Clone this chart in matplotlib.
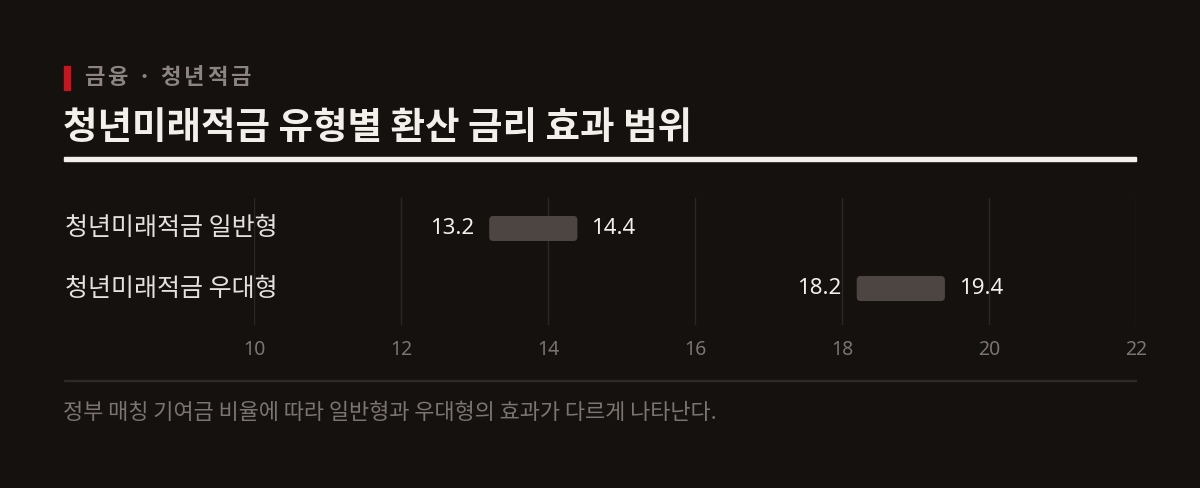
import matplotlib
matplotlib.use("Agg")
import matplotlib.pyplot as plt
from matplotlib.patches import FancyBboxPatch, Rectangle
from matplotlib.transforms import blended_transform_factory

plt.rcParams['font.family'] = ['Noto Sans CJK KR', 'DejaVu Sans']
num_font = ['Noto Sans', 'Noto Sans CJK KR']

# data
categories = ["청년미래적금 일반형", "청년미래적금 우대형"]
low_vals = [13.2, 18.2]
high_vals = [14.4, 19.4]
x_ticks = [10, 12, 14, 16, 18, 20, 22]

eyebrow = "금융 · 청년적금"
title = "청년미래적금 유형별 환산 금리 효과 범위"
footnote = "정부 매칭 기여금 비율에 따라 일반형과 우대형의 효과가 다르게 나타난다."

bg = "#14110f"
bar_col = "#4d4542"
grid_col = "#2b2725"
tick_col = "#7b7470"
white = "#f3efea"

W, H = 1200, 488
fig = plt.figure(figsize=(W / 100, H / 100), dpi=100, facecolor=bg)

def fx(px):
    return px / W

def fy(py):
    return 1 - py / H

# header
fig.patches.append(Rectangle((fx(64), fy(90)), fx(6), 24 / H, transform=fig.transFigure,
                             color="#c8141e", zorder=3))

# eyebrow with letter spacing, char by char
renderer = fig.canvas.get_renderer()
x = 84
for ch in eyebrow:
    if ch == " ":
        x += 7
        continue
    t = fig.text(fx(x), fy(78), ch, color="#8b8480", fontsize=16, fontweight="bold",
                 va="center", ha="left")
    x += t.get_window_extent(renderer).width + 2.8

fig.text(fx(63), fy(127), title, color=white, fontsize=27, fontweight="bold",
         va="center", ha="left")
fig.patches.append(Rectangle((fx(64), fy(161)), fx(1072), 4 / H, transform=fig.transFigure,
                             color=white, zorder=3))

# chart
ax = fig.add_axes([fx(254), fy(325), fx(882), 127 / H])
ax.set_facecolor(bg)
ax.set_xlim(10, 22)
ax.set_ylim(1.608, -0.508)
for s in ax.spines.values():
    s.set_visible(False)
ax.set_xticks(x_ticks)
ax.set_xticklabels([str(t) for t in x_ticks], family=num_font)
ax.tick_params(axis="x", length=0, pad=11, labelsize=14, labelcolor=tick_col)
ax.set_yticks([])
for t in x_ticks:
    ax.axvline(t, color=grid_col, lw=1, zorder=0)

bar_h = 0.417
for i, (lo, hi) in enumerate(zip(low_vals, high_vals)):
    p = FancyBboxPatch((lo, i - bar_h / 2), hi - lo, bar_h,
                       boxstyle="round,pad=0,rounding_size=0.055",
                       mutation_aspect=1.22, fc=bar_col, ec="none", zorder=2)
    ax.add_patch(p)
    ax.annotate(f"{lo:.1f}", (lo, i), xytext=(-11, 0), textcoords="offset points",
                ha="right", va="center", color=white, fontsize=16, fontweight="medium",
                family=num_font)
    ax.annotate(f"{hi:.1f}", (hi, i), xytext=(10, 0), textcoords="offset points",
                ha="left", va="center", color=white, fontsize=16, fontweight="medium",
                family=num_font)

trans = blended_transform_factory(fig.transFigure, ax.transData)
for i, c in enumerate(categories):
    ax.text(fx(65), i, c, transform=trans, ha="left", va="center", color="#e6e1dc",
            fontsize=18, fontweight="light", clip_on=False)

# footer
fig.patches.append(Rectangle((fx(64), fy(381)), fx(1072), 1 / H, transform=fig.transFigure,
                             color="#2e2a28", zorder=3))
fig.text(fx(63), fy(413), footnote, color="#7b7470", fontsize=15.8, fontweight="light",
         va="center", ha="left")

fig.savefig("out.png", dpi=100, facecolor=bg)
